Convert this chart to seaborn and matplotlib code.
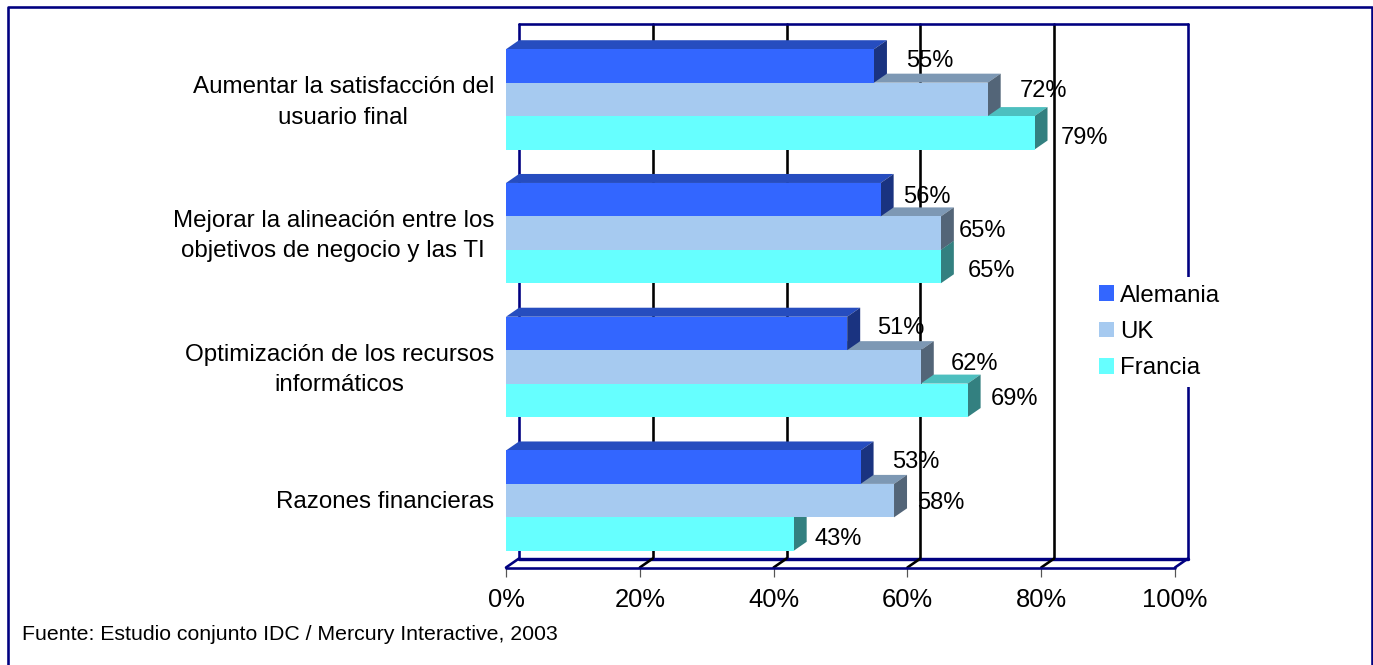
import matplotlib
matplotlib.use("Agg")
import matplotlib.pyplot as plt
import pandas as pd
import seaborn as sns
from matplotlib.colors import to_rgb
from matplotlib.lines import Line2D
from matplotlib.patches import Patch, Polygon
from matplotlib.transforms import ScaledTranslation

categories = [
    "Aumentar la satisfacción del\nusuario final",
    "Mejorar la alineación entre los\nobjetivos de negocio y las TI",
    "Optimización de los recursos\ninformáticos",
    "Razones financieras",
]
series_names = ["Alemania", "UK", "Francia"]
alemania = [55, 56, 51, 53]
uk = [72, 65, 62, 58]
francia = [79, 65, 69, 43]
x_ticks = [0, 20, 40, 60, 80, 100]
source_note = "Fuente: Estudio conjunto IDC / Mercury Interactive, 2003"

colors = ["#3366FF", "#A6CAF0", "#66FFFF"]
NAVY = "#000080"

# Hand placement of the value labels, in pixels from each bar's end and centre
label_dx = [[32, 22, 30, 32], [32, 18, 30, 23], [26, 27, 23, 21]]
label_dy = [[-5, -3, -5, -5], [-8, -2, -3, 2], [5.5, 4.5, -1.5, 4.5]]

W, H, DPI = 1373, 665, 100
PX = 72 / DPI

sns.set_theme(style="white")
plt.rcParams["font.family"] = ["Liberation Sans", "DejaVu Sans"]

fig = plt.figure(figsize=(W / DPI, H / DPI), dpi=DPI, facecolor="white")
ax = fig.add_axes([506 / W, (H - 567.5) / H, 669 / W, 535 / H])

values = [alemania, uk, francia]
df = pd.DataFrame(
    [
        {"categoria": c, "serie": s, "valor": v[i]}
        for s, v in zip(series_names, values)
        for i, c in enumerate(categories)
    ]
)
sns.barplot(
    data=df, y="categoria", x="valor", hue="serie", order=categories,
    hue_order=series_names, palette=colors, orient="h", width=0.75, gap=0,
    saturation=1, legend=False, ax=ax,
)
ax.set_xlim(0, 100)
ax.set_ylim(3.5, -0.5)
ax.set_xlabel("")
ax.set_ylabel("")
sns.despine(ax=ax, left=True, bottom=True, top=True, right=True)

# Depth of the pseudo-3D box, expressed in data units
DX = 13 * 100 / 669
DY = 9 * 4 / 535


def shade(color, factor):
    return tuple(c * factor for c in to_rgb(color))


# Back wall, floor and gridlines
for t in x_ticks:
    is_edge = t in (0, 100)
    col = NAVY if is_edge else "black"
    ax.add_line(Line2D([t + DX, t + DX], [3.5 - DY, -0.5 - DY], color=col, lw=2.6 * PX,
                       clip_on=False, zorder=1))
    ax.add_line(Line2D([t, t + DX], [3.5, 3.5 - DY], color=col, lw=2.6 * PX,
                       clip_on=False, zorder=1.5))
ax.add_line(Line2D([DX, 100 + DX], [-0.5 - DY] * 2, color=NAVY, lw=2.6 * PX, clip_on=False, zorder=1))
ax.add_line(Line2D([DX, 100 + DX], [3.5 - DY] * 2, color=NAVY, lw=3.4 * PX, clip_on=False, zorder=1.2))
ax.add_line(Line2D([0, 100], [3.5, 3.5], color=NAVY, lw=2.6 * PX, clip_on=False, zorder=1.6))

# Bars: the series nearest the viewer sits on top of the ones below it
for s, (container, color) in enumerate(zip(ax.containers, colors)):
    z = 5 - s
    for i, bar in enumerate(container):
        x1 = bar.get_width()
        y0, y1 = bar.get_y(), bar.get_y() + bar.get_height()
        bar.set_zorder(z + 0.2)
        bar.set_linewidth(0)
        top = [(0, y0), (x1, y0), (x1 + DX, y0 - DY), (DX, y0 - DY)]
        side = [(x1, y0), (x1 + DX, y0 - DY), (x1 + DX, y1 - DY), (x1, y1)]
        ax.add_patch(Polygon(top, closed=True, fc=shade(color, 0.75), ec="none", zorder=z, clip_on=False))
        ax.add_patch(Polygon(side, closed=True, fc=shade(color, 0.5), ec="none", zorder=z + 0.1, clip_on=False))
        ax.annotate(
            f"{values[s][i]}%", xy=(x1, (y0 + y1) / 2),
            xytext=(label_dx[s][i] * PX, -label_dy[s][i] * PX), textcoords="offset points",
            ha="left", va="center", fontsize=17, color="black", zorder=10,
        )

ax.set_xticks(x_ticks)
ax.set_xticklabels([f"{t}%" for t in x_ticks], fontsize=18.4, color="black")
ax.tick_params(axis="x", length=9 * PX, width=1.2 * PX, color="#555555", pad=11.5 * PX, bottom=True)
ax.set_yticks(range(len(categories)))
ax.set_yticklabels(categories, fontsize=17.4, color="black", multialignment="center", linespacing=1.48)
ax.tick_params(axis="y", length=0, pad=12 * PX, left=False)
for tick_label in ax.get_yticklabels():
    lift = 3.5 if "\n" in tick_label.get_text() else 1
    tick_label.set_transform(tick_label.get_transform()
                             + ScaledTranslation(0, lift / DPI, fig.dpi_scale_trans))

# Legend on a white panel interrupting the right wall
handles = [Patch(fc=c, ec="none", label=n) for c, n in zip(colors, series_names)]
leg = ax.legend(
    handles=handles, loc="center left", bbox_to_anchor=(1092 / W, (H - 332) / H),
    bbox_transform=fig.transFigure, frameon=True, fancybox=False, facecolor="white",
    edgecolor="none", framealpha=1, fontsize=17.3, handlelength=0.63, handleheight=0.63,
    handletextpad=0.22, labelspacing=0.6, borderpad=0.3, borderaxespad=0,
)
leg.set_zorder(8)
for txt in leg.get_texts():
    txt.set_color("black")

# Outer frame, open along the bottom edge
fig.add_artist(Line2D([7.5 / W, 7.5 / W, 1372 / W, 1372 / W],
                      [0, (H - 7) / H, (H - 7) / H, 0],
                      color=NAVY, lw=2.6 * PX, transform=fig.transFigure))
fig.text(22 / W, (H - 634) / H, source_note, fontsize=15.35, color="black", ha="left", va="center")

fig.savefig("out.png", dpi=DPI, facecolor="white")
